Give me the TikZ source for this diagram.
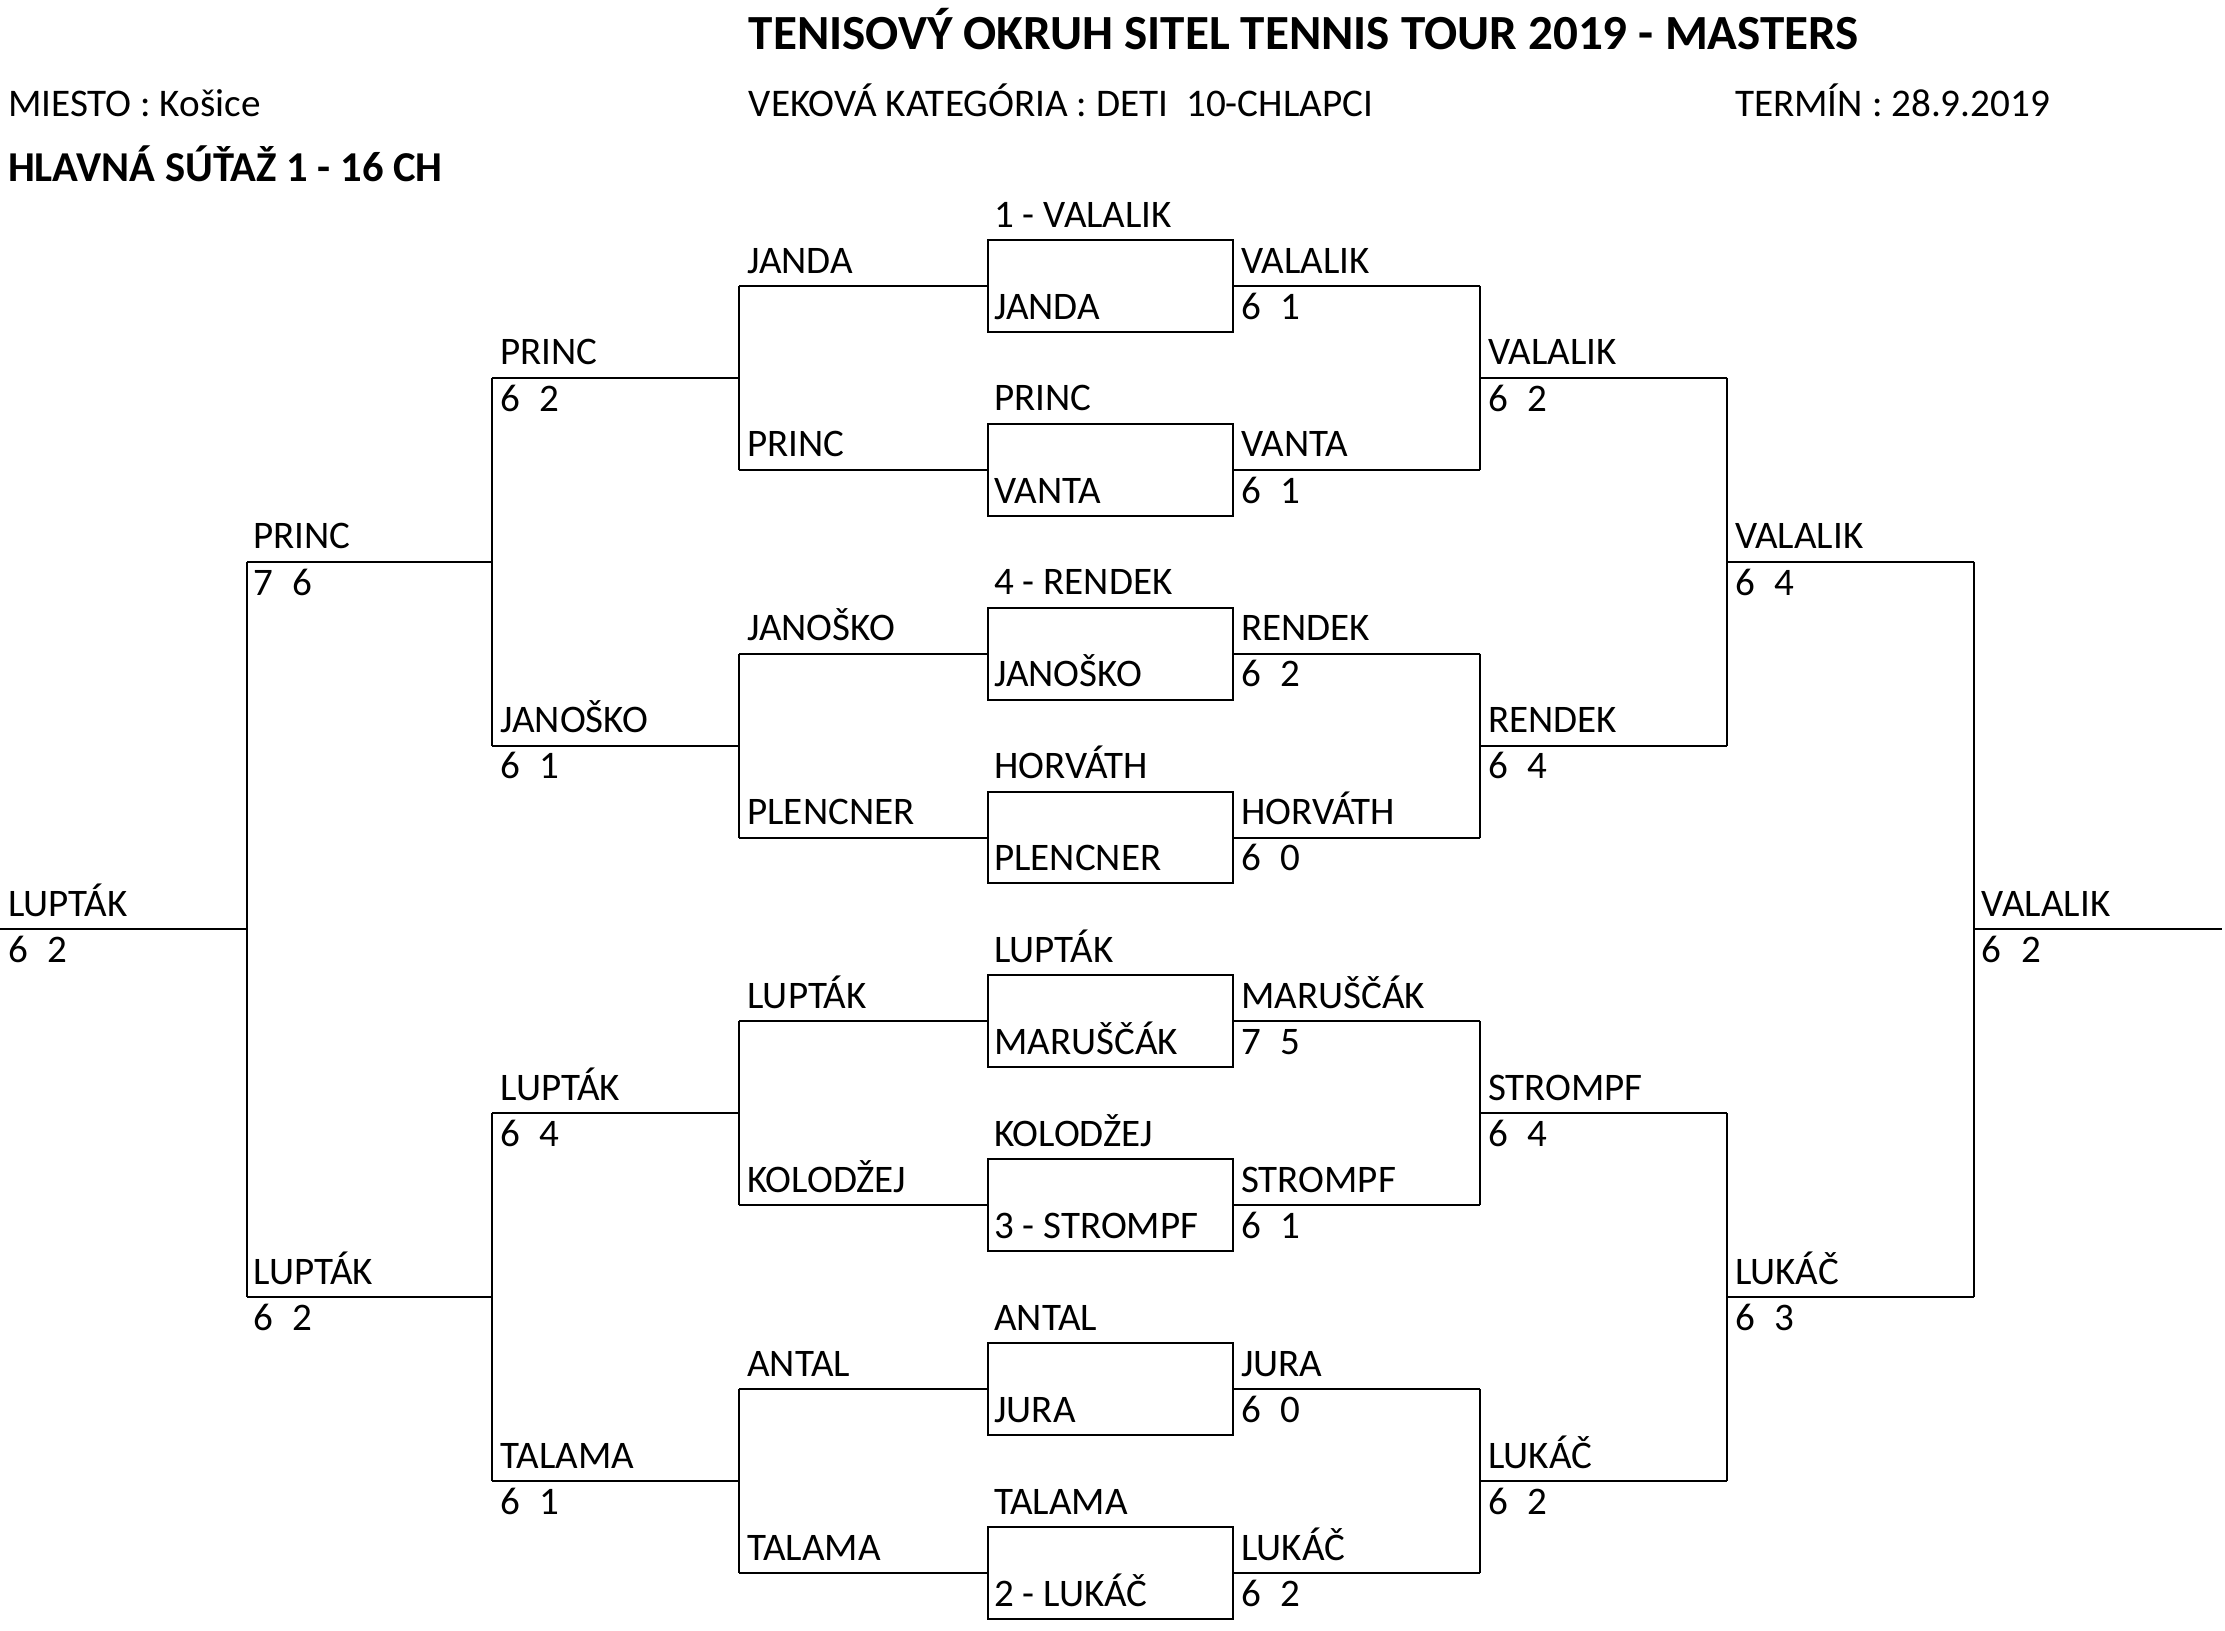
\documentclass[tikz,border=0pt]{standalone}
\usepackage{fontspec}
\setmainfont{Carlito}
\newcommand{\rowy}[1]{169+32.4*(#1)}
\newcommand{\scr}[2]{#1\hspace{0.5em}#2}
\begin{document}
\begin{tikzpicture}[x=1pt,y=-1pt,line width=1.4pt,
  lbl/.style={anchor=base west,inner sep=0pt,font=\fontsize{27.5}{31}\selectfont},
  hdr/.style={anchor=base west,inner sep=0pt,font=\fontsize{27.6}{31}\selectfont},
  hdrb/.style={anchor=base west,inner sep=0pt,font=\bfseries\fontsize{30}{34}\selectfont},
  ttl/.style={anchor=base west,inner sep=0pt,font=\bfseries\fontsize{34.6}{40}\selectfont},
  boxst/.style={draw,rectangle,minimum width=173pt,minimum height=64.8pt,inner sep=0pt}]
\useasboundingbox (0,0) rectangle (1568,1149);
% ---------- header ----------
\node[ttl] (title) at (527,35) {TENISOVÝ OKRUH SITEL TENNIS TOUR 2019 - MASTERS};
\node[hdr] (place) at (5,82) {MIESTO : Košice};
\node[hdr] (cat) at (527,82) {VEKOVÁ KATEGÓRIA : DETI\ \ 10-CHLAPCI};
\node[hdr] (date) at (1222,82) {TERMÍN : 28.9.2019};
\node[hdrb] (comp) at (5,128) {HLAVNÁ SÚŤAŽ 1 - 16 CH};
% ---------- boxes ----------
\foreach \n in {0,...,7}{
  \node[boxst] (box\n) at (782.5,{\rowy{4*\n+1}}) {};
}
% ---------- coordinates ----------
\foreach \k in {1,5,9,13,17,21,25,29}{
  \coordinate (dL\k) at (521,{\rowy{\k}});
  \coordinate (eR\k) at (1043,{\rowy{\k}});
}
\foreach \k in {3,11,19,27}{
  \coordinate (cL\k) at (347,{\rowy{\k}});
  \coordinate (cR\k) at (521,{\rowy{\k}});
  \coordinate (fL\k) at (1043,{\rowy{\k}});
  \coordinate (fR\k) at (1217,{\rowy{\k}});
}
\foreach \k in {7,23}{
  \coordinate (bL\k) at (174,{\rowy{\k}});
  \coordinate (bR\k) at (347,{\rowy{\k}});
  \coordinate (gL\k) at (1217,{\rowy{\k}});
  \coordinate (gR\k) at (1391,{\rowy{\k}});
}
\coordinate (aL) at (0,{\rowy{15}});
\coordinate (aR) at (174,{\rowy{15}});
\coordinate (hL) at (1391,{\rowy{15}});
\coordinate (hR) at (1566,{\rowy{15}});
% ---------- connectors ----------
\foreach \n/\k in {0/1,1/5,2/9,3/13,4/17,5/21,6/25,7/29}{
  \draw (dL\k) -- (box\n.west);
  \draw (box\n.east) -- (eR\k);
}
\foreach \a/\b in {1/5,9/13,17/21,25/29}{
  \draw (dL\a) -- (dL\b);
  \draw (eR\a) -- (eR\b);
}
\foreach \k in {3,11,19,27}{
  \draw (cL\k) -- (cR\k);
  \draw (fL\k) -- (fR\k);
}
\draw (cL3) -- (cL11);
\draw (cL19) -- (cL27);
\draw (fR3) -- (fR11);
\draw (fR19) -- (fR27);
\foreach \k in {7,23}{
  \draw (bL\k) -- (bR\k);
  \draw (gL\k) -- (gR\k);
}
\draw (bL7) -- (bL23);
\draw (gR7) -- (gR23);
\draw (aL) -- (aR);
\draw (hL) -- (hR);
% ---------- labels ----------
\foreach \k/\t in {1/JANDA,5/PRINC,9/JANOŠKO,13/PLENCNER,17/LUPTÁK,21/KOLODŽEJ,25/ANTAL,29/TALAMA}{
  \node[lbl] (d\k) at (526,{\rowy{\k}-9}) {\t};
}
\foreach \n/\t/\u in {0/1 - VALALIK/JANDA,1/PRINC/VANTA,2/4 - RENDEK/JANOŠKO,3/HORVÁTH/PLENCNER,4/LUPTÁK/MARUŠČÁK,5/KOLODŽEJ/3 - STROMPF,6/ANTAL/JURA,7/TALAMA/2 - LUKÁČ}{
  \node[lbl] (bt\n) at (700,{\rowy{4*\n}-9}) {\t};
  \node[lbl] (bi\n) at (700,{\rowy{4*\n+1}+23.5}) {\u};
}
\foreach \k/\t/\p/\q in {1/VALALIK/6/1,5/VANTA/6/1,9/RENDEK/6/2,13/HORVÁTH/6/0,17/MARUŠČÁK/7/5,21/STROMPF/6/1,25/JURA/6/0,29/LUKÁČ/6/2}{
  \node[lbl] (e\k) at (874,{\rowy{\k}-9}) {\t};
  \node[lbl] (es\k) at (874,{\rowy{\k}+23.5}) {\scr{\p}{\q}};
}
\foreach \k/\t/\p/\q in {3/PRINC/6/2,11/JANOŠKO/6/1,19/LUPTÁK/6/4,27/TALAMA/6/1}{
  \node[lbl] (c\k) at (352,{\rowy{\k}-9}) {\t};
  \node[lbl] (cs\k) at (352,{\rowy{\k}+23.5}) {\scr{\p}{\q}};
}
\foreach \k/\t/\p/\q in {3/VALALIK/6/2,11/RENDEK/6/4,19/STROMPF/6/4,27/LUKÁČ/6/2}{
  \node[lbl] (f\k) at (1048,{\rowy{\k}-9}) {\t};
  \node[lbl] (fs\k) at (1048,{\rowy{\k}+23.5}) {\scr{\p}{\q}};
}
\foreach \k/\t/\p/\q in {7/PRINC/7/6,23/LUPTÁK/6/2}{
  \node[lbl] (b\k) at (178,{\rowy{\k}-9}) {\t};
  \node[lbl] (bs\k) at (178,{\rowy{\k}+23.5}) {\scr{\p}{\q}};
}
\foreach \k/\t/\p/\q in {7/VALALIK/6/4,23/LUKÁČ/6/3}{
  \node[lbl] (g\k) at (1222,{\rowy{\k}-9}) {\t};
  \node[lbl] (gs\k) at (1222,{\rowy{\k}+23.5}) {\scr{\p}{\q}};
}
\node[lbl] (a15) at (5,{\rowy{15}-9}) {LUPTÁK};
\node[lbl] (as15) at (5,{\rowy{15}+23.5}) {\scr{6}{2}};
\node[lbl] (h15) at (1396,{\rowy{15}-9}) {VALALIK};
\node[lbl] (hs15) at (1396,{\rowy{15}+23.5}) {\scr{6}{2}};
\end{tikzpicture}
\end{document}
